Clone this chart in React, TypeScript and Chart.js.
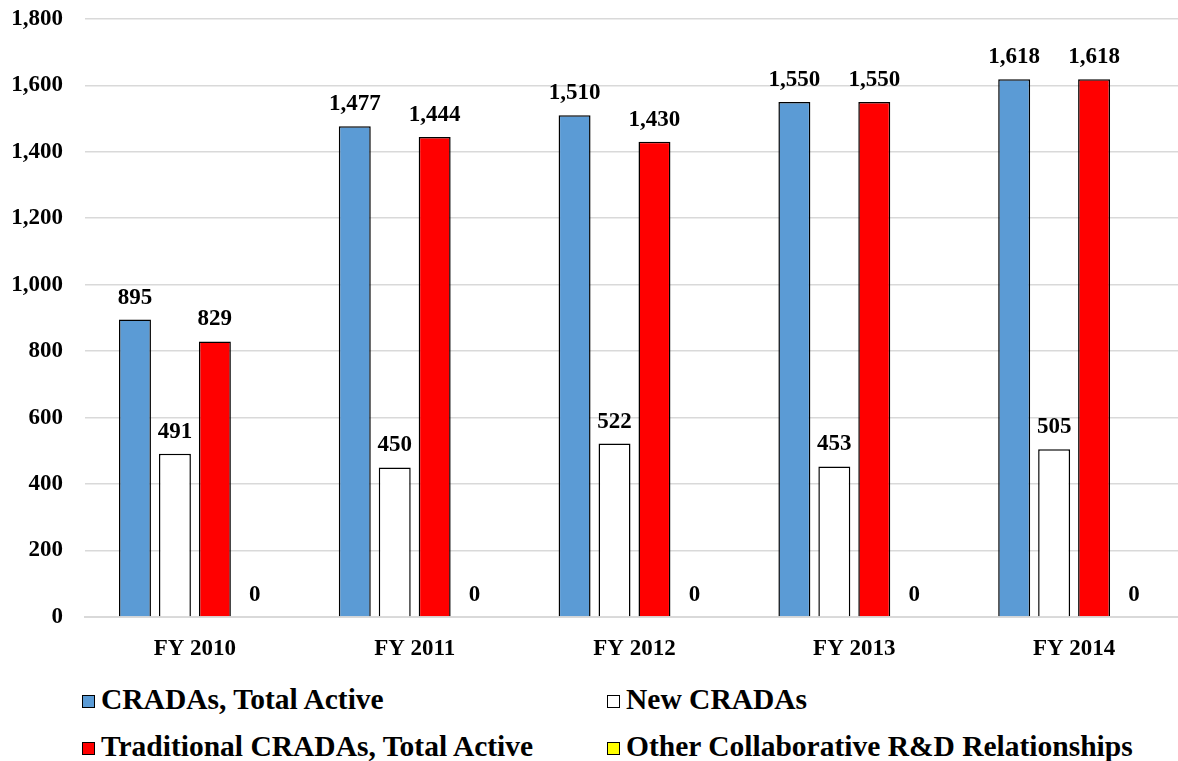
import React, { useEffect, useRef } from "react";
import { Chart, registerables } from "chart.js";

Chart.register(...registerables);

const categories = ["FY 2010", "FY 2011", "FY 2012", "FY 2013", "FY 2014"];
const totalActive = [895, 1477, 1510, 1550, 1618];
const newCradas = [491, 450, 522, 453, 505];
const traditional = [829, 1444, 1430, 1550, 1618];
const otherRD = [0, 0, 0, 0, 0];
const seriesNames = [
  "CRADAs, Total Active",
  "New CRADAs",
  "Traditional CRADAs, Total Active",
  "Other Collaborative R&D Relationships",
];
const seriesColors = ["#5B9BD5", "#FFFFFF", "#FF0000", "#FFFF00"];
const yMax = 1800;
const yStep = 200;

const FONT = "'Liberation Serif', 'Times New Roman', serif";

const valueLabels = {
  id: "valueLabels",
  afterDatasetsDraw(chart: any) {
    const ctx = chart.ctx;
    ctx.save();
    ctx.font = `bold 23px ${FONT}`;
    ctx.fillStyle = "#000";
    ctx.textAlign = "center";
    ctx.textBaseline = "alphabetic";
    chart.data.datasets.forEach((ds: any, i: number) => {
      const meta = chart.getDatasetMeta(i);
      meta.data.forEach((el: any, j: number) => {
        const v = ds.data[j];
        ctx.fillText(Number(v).toLocaleString("en-US"), el.x, el.y - 16);
      });
    });
    ctx.restore();
  },
};

export default function App() {
  const ref = useRef<HTMLCanvasElement | null>(null);
  useEffect(() => {
    if (!ref.current) return;
    const seriesData = [totalActive, newCradas, traditional, otherRD];
    const chart = new Chart(ref.current, {
      type: "bar",
      data: {
        labels: categories,
        datasets: seriesData.map((d, i) => ({
          label: seriesNames[i],
          data: d,
          backgroundColor: seriesColors[i],
          borderColor: "#000",
          borderWidth: 1.5,
          categoryPercentage: 0.727,
          barPercentage: 0.8,
        })),
      },
      options: {
        responsive: false,
        animation: false,
        layout: { padding: { top: 1, left: 0, right: 0, bottom: 0 } },
        plugins: {
          legend: { display: false },
          tooltip: { enabled: false },
        },
        scales: {
          x: {
            grid: { display: false, drawTicks: false },
            border: { color: "#d9d9d9", width: 2 },
            ticks: {
              color: "#000",
              padding: 18,
              font: { family: FONT, size: 23, weight: "bold" },
            },
            afterFit: (s: any) => {
              s.height = 50;
            },
          },
          y: {
            min: 0,
            max: yMax,
            grid: { color: "#d9d9d9", lineWidth: 1.5, drawTicks: false },
            border: { display: false },
            ticks: {
              stepSize: yStep,
              color: "#000",
              padding: 22,
              font: { family: FONT, size: 23, weight: "bold" },
              callback: (v: any) => Number(v).toLocaleString("en-US"),
            },
            afterFit: (s: any) => {
              s.width = 85;
            },
          },
        },
      },
      plugins: [valueLabels],
    });
    return () => chart.destroy();
  }, []);

  const legendPos = [
    { left: 82, top: 684 },
    { left: 607, top: 684 },
    { left: 82, top: 731 },
    { left: 607, top: 731 },
  ];

  return (
    <div
      style={{
        position: "fixed",
        left: 0,
        top: 0,
        width: 1178,
        height: 761,
        overflow: "hidden",
        background: "#fff",
      }}
    >
      <canvas ref={ref} width={1184} height={684} style={{ position: "absolute", left: 0, top: -17 }} />
      {seriesNames.map((name, i) => (
        <div
          key={name}
          style={{
            position: "absolute",
            left: legendPos[i].left,
            top: legendPos[i].top,
            height: 30,
            display: "flex",
            alignItems: "center",
            fontFamily: FONT,
            fontWeight: "bold",
            fontSize: 29.5,
            color: "#000",
            whiteSpace: "nowrap",
          }}
        >
          <span
            style={{
              display: "inline-block",
              width: 11,
              height: 11,
              border: "1.5px solid #000",
              background: seriesColors[i],
              marginRight: 6,
              marginTop: 4,
            }}
          />
          <span>{name}</span>
        </div>
      ))}
    </div>
  );
}
